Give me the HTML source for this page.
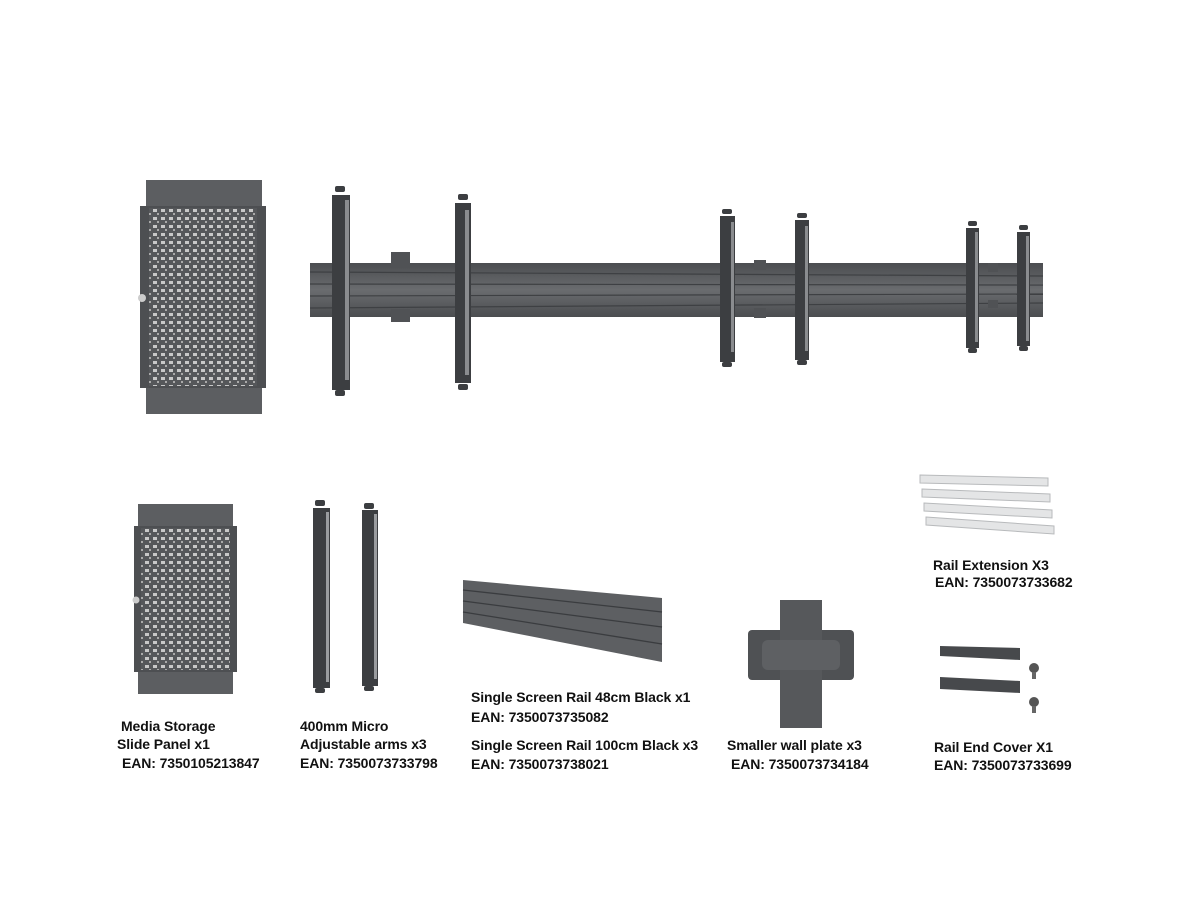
<!DOCTYPE html>
<html><head><style>
html,body{margin:0;padding:0;background:#fff;width:1200px;height:900px;overflow:hidden}
.t{position:absolute;font-family:"Liberation Sans",sans-serif;font-weight:bold;font-size:14px;color:#111;white-space:nowrap;letter-spacing:-0.1px}
</style></head><body>
<svg width="1200" height="900" style="position:absolute;left:0;top:0">
<defs>
<pattern id="perf" width="8" height="8" patternUnits="userSpaceOnUse">
<rect width="8" height="8" fill="#55575a"/><rect x="1" y="1" width="4" height="3" fill="#c8c8c8"/><rect x="5" y="5" width="2" height="2" fill="#aaa"/>
</pattern>
<linearGradient id="rail" x1="0" y1="0" x2="0" y2="1">
<stop offset="0" stop-color="#4b4d50"/><stop offset="0.5" stop-color="#6a6c6f"/><stop offset="1" stop-color="#4b4d50"/>
</linearGradient>
</defs>
<rect x="146" y="180" width="116" height="234" fill="#5c5e61"/>
<rect x="140" y="206" width="126" height="182" fill="#4d4f52"/>
<rect x="149" y="208" width="108" height="178" fill="url(#perf)"/>
<circle cx="142" cy="298" r="4" fill="#ccc"/>
<rect x="310" y="263" width="733" height="54" fill="url(#rail)"/>
<g stroke="#3e4043" stroke-width="1.2">
<line x1="310" y1="272" x2="1043" y2="276"/><line x1="310" y1="284" x2="1043" y2="285"/><line x1="310" y1="296" x2="1043" y2="294"/><line x1="310" y1="308" x2="1043" y2="303"/>
</g>
<g fill="#505255">
<rect x="391" y="252" width="19" height="16"/><rect x="391" y="309" width="19" height="13"/>
<rect x="754" y="260" width="12" height="10"/><rect x="754" y="308" width="12" height="10"/>
<rect x="988" y="263" width="10" height="9"/><rect x="988" y="300" width="10" height="8"/>
</g>
<g fill="#3c3e41">
<rect x="332" y="195" width="18" height="195"/><rect x="335" y="186" width="10" height="6" rx="2"/><rect x="335" y="390" width="10" height="6" rx="2"/>
<rect x="455" y="203" width="16" height="180"/><rect x="458" y="194" width="10" height="6" rx="2"/><rect x="458" y="384" width="10" height="6" rx="2"/>
<rect x="720" y="216" width="15" height="146"/><rect x="722" y="209" width="10" height="5" rx="2"/><rect x="722" y="362" width="10" height="5" rx="2"/>
<rect x="795" y="220" width="14" height="140"/><rect x="797" y="213" width="10" height="5" rx="2"/><rect x="797" y="360" width="10" height="5" rx="2"/>
<rect x="966" y="228" width="13" height="120"/><rect x="968" y="221" width="9" height="5" rx="2"/><rect x="968" y="348" width="9" height="5" rx="2"/>
<rect x="1017" y="232" width="13" height="114"/><rect x="1019" y="225" width="9" height="5" rx="2"/><rect x="1019" y="346" width="9" height="5" rx="2"/>
</g>
<g fill="#8a8c8f">
<rect x="345" y="200" width="4" height="180"/><rect x="465" y="210" width="4" height="165"/><rect x="731" y="222" width="3" height="130"/>
<rect x="805" y="226" width="3" height="125"/><rect x="975" y="232" width="3" height="110"/><rect x="1026" y="236" width="3" height="105"/>
</g>
<rect x="138" y="504" width="95" height="190" fill="#5c5e61"/>
<rect x="134" y="526" width="103" height="146" fill="#4d4f52"/>
<rect x="141" y="528" width="89" height="142" fill="url(#perf)"/>
<circle cx="136" cy="600" r="3.5" fill="#ccc"/>
<g fill="#3c3e41">
<rect x="313" y="508" width="17" height="180"/><rect x="315" y="500" width="10" height="6" rx="2"/><rect x="315" y="688" width="10" height="5" rx="2"/>
<rect x="362" y="510" width="16" height="176"/><rect x="364" y="503" width="10" height="6" rx="2"/><rect x="364" y="686" width="10" height="5" rx="2"/>
</g>
<g fill="#9a9c9f"><rect x="326" y="512" width="3" height="170"/><rect x="374" y="514" width="3" height="165"/></g>
<polygon points="463,580 662,598 662,662 463,623" fill="#5d5f62"/>
<g stroke="#3a3c3f" stroke-width="1.3">
<line x1="463" y1="590" x2="662" y2="612"/><line x1="463" y1="601" x2="662" y2="627"/><line x1="463" y1="612" x2="662" y2="644"/>
</g>
<rect x="748" y="630" width="106" height="50" rx="4" fill="#4f5154"/>
<rect x="780" y="600" width="42" height="128" fill="#56585b"/>
<rect x="762" y="640" width="78" height="30" rx="6" fill="#5e6063"/>
<g fill="#e4e5e6" stroke="#b8babc" stroke-width="1">
<polygon points="920,475 1048,478 1048,486 920,483"/>
<polygon points="922,489 1050,494 1050,502 922,497"/>
<polygon points="924,503 1052,510 1052,518 924,511"/>
<polygon points="926,517 1054,526 1054,534 926,525"/>
</g>
<polygon points="940,646 1020,648 1020,660 940,656" fill="#47494c"/>
<polygon points="940,677 1020,681 1020,693 940,689" fill="#47494c"/>
<circle cx="1034" cy="668" r="5" fill="#555"/><rect x="1032" y="672" width="4" height="7" fill="#666"/>
<circle cx="1034" cy="702" r="5" fill="#555"/><rect x="1032" y="706" width="4" height="7" fill="#666"/>
</svg>
<div class="t" style="left:121px;top:718px">Media Storage</div>
<div class="t" style="left:117px;top:736px">Slide Panel x1</div>
<div class="t" style="left:122px;top:755px">EAN: 7350105213847</div>
<div class="t" style="left:300px;top:718px">400mm Micro</div>
<div class="t" style="left:300px;top:736px">Adjustable arms x3</div>
<div class="t" style="left:300px;top:755px">EAN: 7350073733798</div>
<div class="t" style="left:471px;top:689px">Single Screen Rail 48cm Black x1</div>
<div class="t" style="left:471px;top:709px">EAN: 7350073735082</div>
<div class="t" style="left:471px;top:737px">Single Screen Rail 100cm Black x3</div>
<div class="t" style="left:471px;top:756px">EAN: 7350073738021</div>
<div class="t" style="left:727px;top:737px">Smaller wall plate x3</div>
<div class="t" style="left:731px;top:756px">EAN: 7350073734184</div>
<div class="t" style="left:933px;top:557px">Rail Extension X3</div>
<div class="t" style="left:935px;top:574px">EAN: 7350073733682</div>
<div class="t" style="left:934px;top:739px">Rail End Cover X1</div>
<div class="t" style="left:934px;top:757px">EAN: 7350073733699</div>
</body></html>
